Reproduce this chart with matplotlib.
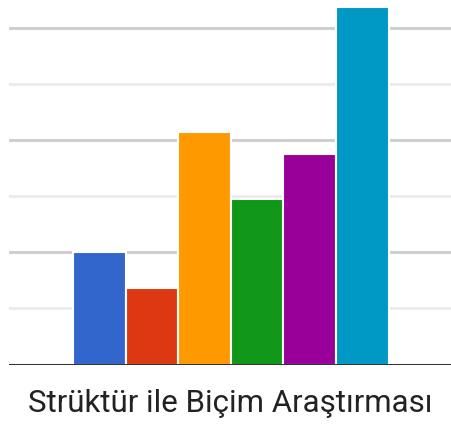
import matplotlib
matplotlib.use("Agg")
import matplotlib.pyplot as plt

category = "Strüktür ile Biçim Araştırması"
series_values = [2.0, 1.36, 4.15, 2.95, 3.76, 6.37]
colors = ["#3366cc", "#dc3912", "#ff9900", "#109618", "#990099", "#0099c6"]
major_ticks = [0, 2, 4, 6]
minor_ticks = [1, 3, 5]

fig = plt.figure(figsize=(4.51, 4.25), dpi=100)
ax = fig.add_axes([9/451, (425-364.5)/425, 1 - 9/451, 364.5/425])

x = list(range(len(series_values)))
ax.bar(x, series_values, width=1.0, color=colors, edgecolor="white", linewidth=1.5, zorder=3)

ax.set_xlim(-1.716, 6.685)
ax.set_ylim(0, 6.5)
for t in major_ticks[1:]:
    ax.axhline(t, color="#cccccc", linewidth=2, zorder=1)
for t in minor_ticks:
    ax.axhline(t, color="#ebebeb", linewidth=2, zorder=1)
ax.axhline(0, color="#333333", linewidth=2.2, zorder=4)

for s in ax.spines.values():
    s.set_visible(False)
ax.set_xticks([])
ax.set_yticks([])

fig.text(230/451, 1 - 403/425, category, ha="center", va="center",
         fontsize=22.5, color="#222222", family=["Roboto", "DejaVu Sans"])

fig.savefig("out.png", dpi=100)
